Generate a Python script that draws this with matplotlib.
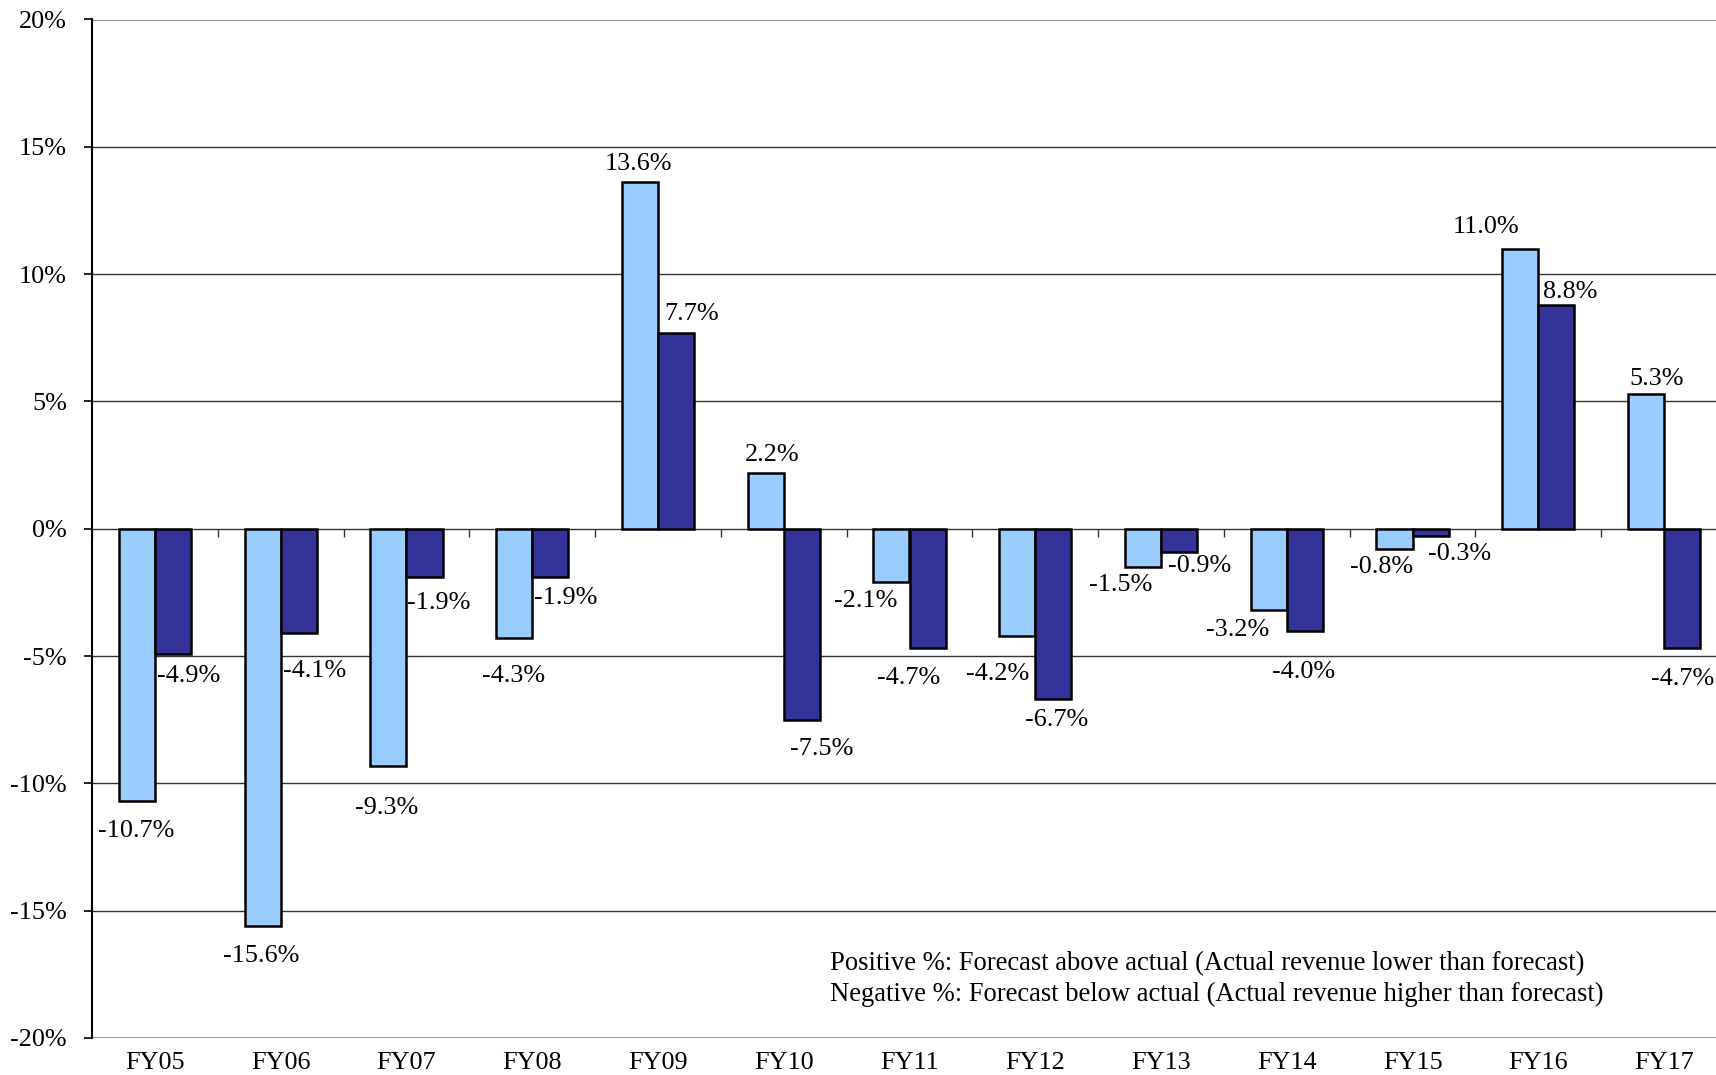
import matplotlib
matplotlib.use("Agg")
import matplotlib.pyplot as plt
import numpy as np

# DATA
years = ["FY05", "FY06", "FY07", "FY08", "FY09", "FY10", "FY11",
         "FY12", "FY13", "FY14", "FY15", "FY16", "FY17"]
light_vals = [-10.7, -15.6, -9.3, -4.3, 13.6, 2.2, -2.1, -4.2, -1.5, -3.2, -0.8, 11.0, 5.3]
dark_vals = [-4.9, -4.1, -1.9, -1.9, 7.7, -7.5, -4.7, -6.7, -0.9, -4.0, -0.3, 8.8, -4.7]
y_ticks = [-20, -15, -10, -5, 0, 5, 10, 15, 20]
note_lines = ["Positive %: Forecast above actual (Actual revenue lower than forecast)",
              "Negative %: Forecast below actual (Actual revenue higher than forecast)"]

# label nudges in pixels (dx, dy of text centre from bar end)
light_offsets = [(-1, -30), (-1, -30), (-2, -42), (-1, -38), (-1, 18), (7, 18), (-26, -19),
                 (-20, -38), (-22, -18), (-31, -20), (-13, -18), (-34, 22), (11, 15)]
dark_offsets = [(16, -22), (16, -38), (14, -26), (15, -21), (16, 19), (20, -29), (-19, -30),
                (3, -21), (21, -14), (-1, -41), (29, -18), (14, 13), (0, -31)]

LIGHT = "#99CCFF"
DARK = "#333399"
FONT = "Liberation Serif"
FS = 18.8
PX = 0.72  # points per pixel at dpi 100

plt.rcParams["font.family"] = [FONT, "DejaVu Serif"]

fig = plt.figure(figsize=(17.16, 10.75), dpi=100)
ax = fig.add_axes([92 / 1716, 37 / 1075, 1635 / 1716, 1018.5 / 1075])

x = np.arange(len(years))
w = 0.287
bars_l = ax.bar(x - w / 2, light_vals, w, color=LIGHT, edgecolor="black", linewidth=1.8, zorder=3)
bars_d = ax.bar(x + w / 2, dark_vals, w, color=DARK, edgecolor="black", linewidth=1.8, zorder=3)

for bars, vals, offs in [(bars_l, light_vals, light_offsets), (bars_d, dark_vals, dark_offsets)]:
    for b, v, (dx, dy) in zip(bars, vals, offs):
        ax.annotate(f"{v:.1f}%", (b.get_x() + b.get_width() / 2, v),
                    xytext=(dx * PX, dy * PX), textcoords="offset points",
                    ha="center", va="center", fontsize=FS, zorder=4, annotation_clip=False)

ax.set_xlim(-0.5, len(years) - 0.5)
ax.set_ylim(-20, 20)

# gridlines
for t in y_ticks:
    if t in (-20, 20):
        ax.axhline(t, color="#999999", linewidth=2.2, zorder=1)
    elif t != 0:
        ax.axhline(t, color="#333333", linewidth=1.0, zorder=1)

ax.set_yticks(y_ticks)
ax.set_yticklabels([f"{t}%" for t in y_ticks], fontsize=FS)
ax.tick_params(axis="y", direction="out", length=6, width=1.2, pad=12)

# category axis sits on zero, labels at the bottom
ax.spines["bottom"].set_position(("data", 0))
ax.spines["bottom"].set_linewidth(1.0)
ax.spines["bottom"].set_color("#333333")
ax.spines["top"].set_visible(False)
ax.spines["right"].set_visible(False)
ax.spines["left"].set_linewidth(1.5)
ax.set_xticks(np.arange(len(years) + 1) - 0.5)
ax.set_xticklabels([])
ax.tick_params(axis="x", direction="out", length=6, width=1.0, color="#333333")

sec = ax.secondary_xaxis(0.0)
sec.set_xticks(x)
sec.set_xticklabels(years, fontsize=FS)
sec.tick_params(length=0, pad=10)
sec.spines["bottom"].set_visible(False)

fig.text(830 / 1716, 1 - 964 / 1075, note_lines[0], fontsize=19.2, ha="left", va="center")
fig.text(830 / 1716, 1 - 994 / 1075, note_lines[1], fontsize=19.2, ha="left", va="center")

fig.savefig("out.png", dpi=100, facecolor="white")
